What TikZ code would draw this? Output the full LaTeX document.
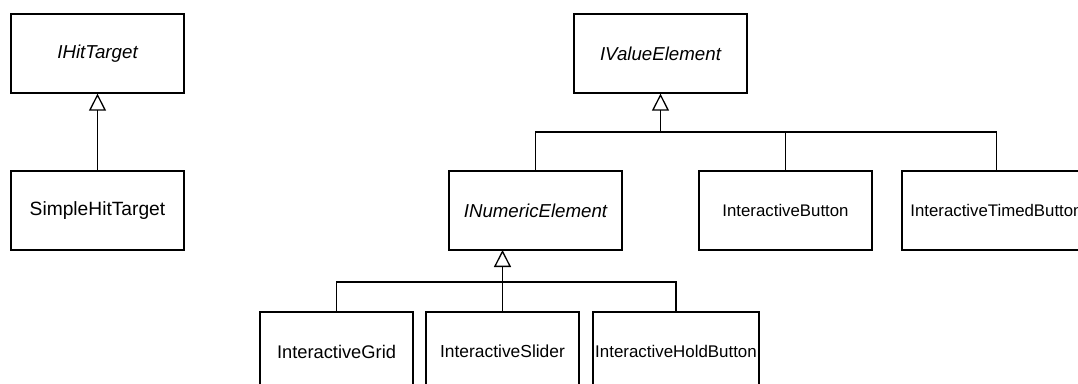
\documentclass[tikz,border=0pt]{standalone}
\usepackage{fontspec}
\setmainfont{Liberation Sans}
\usetikzlibrary{arrows.meta}
\tikzset{
  cls/.style={draw=black, line width=1.3pt, fill=white, inner sep=0pt,
    minimum width=173pt, minimum height=79pt,
    font=\fontsize{18.5}{22}\selectfont},
  iface/.style={cls, font=\fontsize{18.7}{22}\selectfont\itshape},
  fs/.style={font=\fontsize{#1}{20}\selectfont},
  inherit/.style={draw=black, line width=1.3pt,
    -{Triangle[open, length=17pt, width=17pt, line width=1.3pt]}},
  link/.style={draw=black, line width=1.3pt},
}
\begin{document}
\begin{tikzpicture}[x=1pt, y=-1pt]
\useasboundingbox (0,0) rectangle (1078,383);

% left hierarchy
\node[iface] (hit) at (97.5,53.5) {IHitTarget};
\node[cls, fs=19.2] (simple) at (97.5,210.5) {SimpleHitTarget};

% value element hierarchy
\node[iface] (value) at (660.5,53.5) {IValueElement};
\node[iface] (numeric) at (535.5,210.5) {INumericElement};
\node[cls, fs=16.8] (button) at (785.5,210.5) {InteractiveButton};
\node[cls, fs=16.8, minimum width=189pt] (timed) at (996.5,210.5) {InteractiveTimedButton};

% numeric element hierarchy
\node[cls, fs=18.3, minimum width=153pt] (grid) at (336.5,351.5) {InteractiveGrid};
\node[cls, fs=17.4, minimum width=153pt] (slider) at (502.5,351.5) {InteractiveSlider};
\node[cls, fs=16.9, minimum width=166pt] (hold) at (676,351.5) {InteractiveHoldButton};

% bus junctions
\coordinate (vbus) at (660.5,132);
\coordinate (nbus) at (502.5,282);
\coordinate (ntip) at (502.5,250);

\draw[inherit] (simple.north) -- (hit.south);

\draw[inherit] (numeric.north) |- (vbus) -- (value.south);
\draw[link] (button.north) |- (vbus);
\draw[link] (timed.north) |- (vbus);

\draw[inherit] (slider.north) -- (ntip);
\draw[link] (grid.north) |- (nbus);
\draw[link] (hold.north) |- (nbus);
\end{tikzpicture}
\end{document}
